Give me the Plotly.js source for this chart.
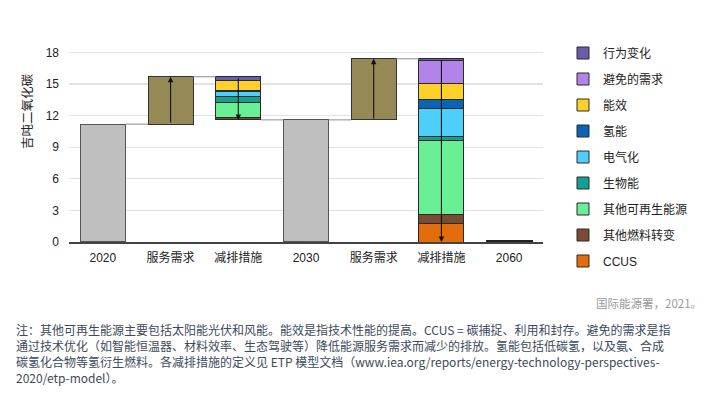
<!DOCTYPE html>
<html><head><meta charset="utf-8">
<script src="https://cdn.plot.ly/plotly-3.0.1.min.js"></script>
<style>html,body{margin:0;padding:0;background:#fff}</style>
</head><body><div id="chart" style="width:717px;height:399px"></div>
<script>
// ---- data ----
const categories = ['2020', '服务需求', '减排措施', '2030', '服务需求', '减排措施', '2060'];
const yTicks = [0, 3, 6, 9, 12, 15, 18];
const emissionLevels = [11.2, 11.6, 0.05];      // 2020, 2030, 2060
const serviceDemand = [4.5, 5.8];                // 2020-2030, 2030-2060
const ccus = [0, 1.8];
const otherFuelSwitch = [0.25, 0.8];
const otherRenewables = [1.45, 7.0];
const bioenergy = [0.5, 0.45];
const electrification = [0.5, 2.6];
const hydrogen = [0.1, 0.85];
const efficiency = [0.9, 1.6];
const avoidedDemand = [0.05, 2.1];
const behaviour = [0.35, 0.2];
const measureNames = ['CCUS', '其他燃料转变', '其他可再生能源', '生物能', '电气化', '氢能', '能效', '避免的需求', '行为变化'];
const measureColors = ['#e36c0c', '#7a4a32', '#69ef94', '#14a090', '#4dcffa', '#0b63b4', '#fdd02a', '#b384e8', '#6c5cae'];
const sourceText = '国际能源署，2021。';
const noteLines = [
  '注：其他可再生能源主要包括太阳能光伏和风能。能效是指技术性能的提高。CCUS = 碳捕捉、利用和封存。避免的需求是指',
  '通过技术优化（如智能恒温器、材料效率、生态驾驶等）降低能源服务需求而减少的排放。氢能包括低碳氢，以及氨、合成',
  '碳氢化合物等氢衍生燃料。各减排措施的定义见 ETP 模型文档（www.iea.org/reports/energy-technology-perspectives-',
  '2020/etp-model）。'
];
const yTitle = '吉吨二氧化碳';

// ---- build ----
const measureSeries = [ccus, otherFuelSwitch, otherRenewables, bioenergy, electrification, hydrogen, efficiency, avoidedDemand, behaviour];
const xIdx = categories.map((_, i) => i);
const levelX = [0, 3, 6], serviceX = [1, 4], measureX = [2, 5];
const bargap = 0.335, hw = (1 - bargap) / 2;

const totals = [0, 1].map(k => measureSeries.reduce((s, a) => s + a[k], 0));
const serviceTop = [0, 1].map(k => emissionLevels[k] + serviceDemand[k]);
const measureBase = [0, 1].map(k => serviceTop[k] - totals[k]);

function arr(xs, vals) { const a = xIdx.map(() => null); xs.forEach((x, i) => a[x] = vals[i]); return a; }

const traces = [];
traces.push({ type: 'bar', x: xIdx, y: arr([1, 2, 4, 5], [emissionLevels[0], measureBase[0], emissionLevels[1], measureBase[1]]),
  marker: { color: 'rgba(0,0,0,0)', line: { width: 0 } }, showlegend: false, hoverinfo: 'skip' });
traces.push({ type: 'bar', x: xIdx, y: arr(levelX, emissionLevels),
  marker: { color: '#bfbfbf', line: { color: arr(levelX, ['#555', '#555', '#222']), width: arr(levelX, [1.2, 1.2, 2]) } }, showlegend: false });
traces.push({ type: 'bar', x: xIdx, y: arr(serviceX, serviceDemand),
  marker: { color: '#958a55', line: { color: '#333', width: 1 } }, showlegend: false });
measureSeries.forEach((s, i) => {
  traces.push({ type: 'bar', name: measureNames[i], legendgroup: 'g' + i, legendrank: 100 - i, x: xIdx, y: arr(measureX, s),
    marker: { color: measureColors[i], line: { color: '#2a2a2a', width: 1 } } });
});

// connectors
const cx = [], cy = [];
const conns = [
  [0, 1, emissionLevels[0]], [1, 2, serviceTop[0]], [2, 3, measureBase[0]],
  [3, 4, emissionLevels[1]], [4, 5, serviceTop[1]]
];
conns.forEach(c => { cx.push(c[0] + hw, c[1] - hw, null); cy.push(c[2], c[2], null); });
traces.push({ type: 'scatter', mode: 'lines', x: cx, y: cy, line: { color: '#8c8c8c', width: 1 }, showlegend: false, hoverinfo: 'skip' });

const fontFam = 'Liberation Sans, Arial, Noto Sans CJK SC, sans-serif';
const annotations = [];
// arrows
[0, 1].forEach(k => {
  annotations.push({ x: serviceX[k], y: serviceTop[k], ax: serviceX[k], ay: emissionLevels[k], xref: 'x', yref: 'y', axref: 'x', ayref: 'y',
    text: '', showarrow: true, arrowhead: 2, arrowsize: 1, arrowwidth: 1.1, arrowcolor: '#111', standoff: 0 });
  annotations.push({ x: measureX[k], y: measureBase[k], ax: measureX[k], ay: serviceTop[k], xref: 'x', yref: 'y', axref: 'x', ayref: 'y',
    text: '', showarrow: true, arrowhead: 2, arrowsize: 1, arrowwidth: 1.1, arrowcolor: '#111', standoff: 0 });
});
const L = 69, T = 42, W = 474, H = 200;
const px = x => (x - L) / W, py = y => (T + H - y) / H;
annotations.push({ xref: 'paper', yref: 'paper', x: px(28), y: py(111), xanchor: 'center', yanchor: 'middle', text: yTitle, textangle: -90, showarrow: false,
  font: { family: fontFam, size: 12.5, color: '#222' } });
annotations.push({ xref: 'paper', yref: 'paper', x: px(704), y: py(303), xanchor: 'right', yanchor: 'middle', text: sourceText, showarrow: false,
  font: { family: 'Noto Sans CJK SC', size: 11.5, color: '#9a9a9a' } });
const lineY = [329, 345, 361, 377];
noteLines.forEach((t, i) => annotations.push({ xref: 'paper', yref: 'paper', x: px(14), y: py(lineY[i]), xanchor: 'left', yanchor: 'middle',
  text: t, showarrow: false, font: { family: 'Noto Sans CJK SC', size: 12, color: '#3c4a5a' } }));

const layout = {
  width: 717, height: 399,
  margin: { l: L, r: 717 - L - W, t: T, b: 399 - T - H },
  barmode: 'stack', bargap: bargap,
  paper_bgcolor: '#fff', plot_bgcolor: '#fff',
  font: { family: fontFam, size: 12, color: '#222' },
  xaxis: { range: [-0.5, 6.5], tickvals: xIdx, ticktext: categories, showgrid: false, zeroline: false,
    showline: true, linecolor: '#444', linewidth: 1.5, ticks: '', ticklabelstandoff: 4, fixedrange: true },
  yaxis: { range: [0, 19], tickvals: yTicks, showgrid: true, gridcolor: '#e2e2e2', gridwidth: 1.3, zeroline: false,
    showline: false, ticks: '', ticklabelstandoff: 9, fixedrange: true },
  legend: { x: px(563), y: py(38.5), xanchor: 'left', yanchor: 'top', traceorder: 'grouped', tracegroupgap: 7, maxheight: 320,
    font: { family: fontFam, size: 12, color: '#222' }, bgcolor: 'rgba(0,0,0,0)', itemwidth: 30 },
  annotations: annotations,
  showlegend: true
};
Plotly.newPlot('chart', traces, layout, { displayModeBar: false, staticPlot: true });
</script></body></html>
